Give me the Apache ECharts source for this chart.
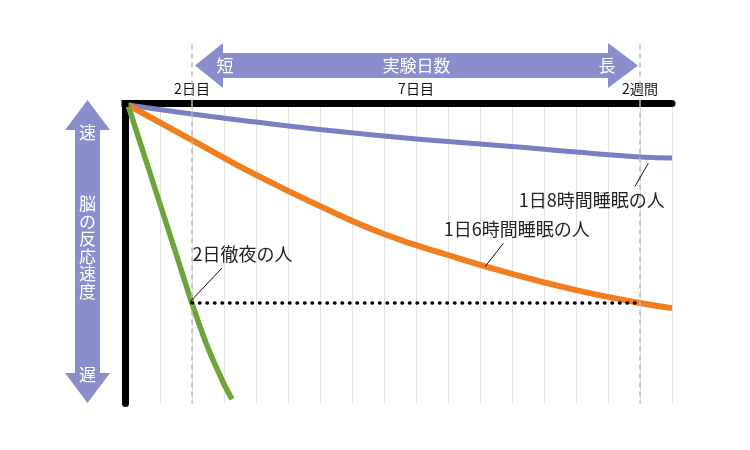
<!DOCTYPE html>
<html>
<head>
<meta charset="utf-8">
<script src="https://cdn.jsdelivr.net/npm/echarts@6/dist/echarts.min.js"></script>
<style>
    html, body { margin: 0; padding: 0; background: #fff; }
    #chart { width: 750px; height: 450px; }
</style>
</head>
<body>
<div id="chart"></div>
<script>
    // 実験日数（グリッド単位）と脳の反応速度の低下（0=速, 100=遅）
    var days = [0, 2, 4, 6, 8, 10, 12, 14, 16, 17];
    var sleep8h = [0.5, 3.5, 6.2, 8.7, 10.8, 12.7, 14.3, 16.2, 17.8, 18.2];
    var sleep6h = [0.5, 12.2, 23.8, 34.2, 43.5, 50.5, 56.8, 62.2, 66.5, 68.2];
    var allNightDays = [0, 0.5, 1, 1.5, 2, 2.5, 3, 3.25];
    var allNight = [0.5, 17, 33.5, 50, 66.6, 81.5, 93.5, 98.6];
    var tickLabels = { 2: '2日目', 9: '7日目', 16: '2週間' };
    var markDays = [2, 16];
    var equalLevel = 66.5;

    var names = ['1日8時間睡眠の人', '1日6時間睡眠の人', '2日徹夜の人'];
    // 注記の位置（データ座標）
    var labelPos = [[14.49, 32.2], [12.15, 41.8], [3.58, 50.2]];
    var leaders = [
        [[16.26, 19.9], [15.84, 27.7]],
        [[11.73, 46.6], [11.16, 54.4]],
        [[2.93, 54.9], [1.94, 66.1]]
    ];

    var FONT = '"Noto Sans CJK JP", "Noto Sans", sans-serif';
    var ARROW = '#8a8fcc';

    function zip(xs, ys) {
        return xs.map(function (x, i) { return [x, ys[i]]; });
    }

    function annot(i) {
        return {
            markLine: {
                silent: true,
                symbol: ['none', 'none'],
                label: { show: false },
                lineStyle: { color: '#111', width: 1, type: 'solid' },
                data: [[{ coord: leaders[i][0] }, { coord: leaders[i][1] }]]
            },
            markPoint: {
                silent: true,
                symbol: 'circle',
                symbolSize: 1,
                itemStyle: { color: 'rgba(0,0,0,0)' },
                label: {
                    show: true,
                    position: 'inside',
                    formatter: names[i],
                    color: '#222',
                    fontSize: 18,
                    fontFamily: FONT
                },
                data: [{ coord: labelPos[i] }]
            }
        };
    }

    var chart = echarts.init(document.getElementById('chart'));

    var blue = Object.assign({
        type: 'line', name: names[0], data: zip(days, sleep8h), smooth: true,
        showSymbol: false, lineStyle: { color: '#7a7ec2', width: 5 }, z: 4
    }, annot(0));
    var orange = Object.assign({
        type: 'line', name: names[1], data: zip(days, sleep6h), smooth: true,
        showSymbol: false, lineStyle: { color: '#ef7f1f', width: 6 }, z: 4
    }, annot(1));
    var green = Object.assign({
        type: 'line', name: names[2], data: zip(allNightDays, allNight), smooth: 0.2,
        showSymbol: false, lineStyle: { color: '#6ea43a', width: 5.5 }, z: 4
    }, annot(2));

    var option = {
        animation: false,
        grid: [
            { left: 128, right: 78, top: 103.5, bottom: 46.5 },
            { left: 128, right: 78, top: 42, height: 61.5 }
        ],
        xAxis: [
            {
                gridIndex: 0, type: 'value', position: 'top', min: 0, max: 17, interval: 1,
                axisLine: { onZero: false, lineStyle: { color: '#000', width: 7 } },
                axisTick: { show: false },
                splitLine: { show: true, lineStyle: { color: '#e2e2e2', width: 1 } },
                axisLabel: {
                    margin: 8, color: '#111', fontSize: 14, fontFamily: FONT,
                    formatter: function (v) { return tickLabels[v] || ''; }
                }
            },
            { gridIndex: 1, type: 'value', min: 0, max: 17, show: false }
        ],
        yAxis: [
            {
                gridIndex: 0, type: 'value', inverse: true, min: 0, max: 100, offset: 3,
                axisLine: { show: true, onZero: false, lineStyle: { color: '#000', width: 7 } },
                axisTick: { show: false },
                axisLabel: { show: false },
                splitLine: { show: false }
            },
            { gridIndex: 1, type: 'value', min: 0, max: 1, show: false }
        ],
        series: [
            {
                type: 'line', data: [], xAxisIndex: 0, yAxisIndex: 0, z: 2,
                markLine: {
                    silent: true, symbol: ['none', 'none'], label: { show: false },
                    lineStyle: { color: '#bbb', width: 1.5, type: [5, 4] },
                    data: markDays.map(function (d) { return { xAxis: d }; })
                }
            },
            {
                type: 'line', data: [], xAxisIndex: 1, yAxisIndex: 1, z: 1,
                markLine: {
                    silent: true, symbol: ['none', 'none'], label: { show: false },
                    lineStyle: { color: '#bbb', width: 1.5, type: [5, 4] },
                    data: markDays.map(function (d) { return { xAxis: d }; })
                }
            },
            blue,
            orange,
            green,
            {
                type: 'line', z: 5, showSymbol: false,
                data: [[markDays[0], equalLevel], [markDays[1], equalLevel]],
                lineStyle: { color: '#000', width: 3.5, type: [0.5, 7], cap: 'round' }
            }
        ],
        graphic: [
            { type: 'rect', z: 10, shape: { x: 121.5, y: 100, width: 7, height: 7 }, style: { fill: '#000' } },
            {
                type: 'polygon', z: 10,
                shape: { points: [[195, 65.5], [223, 43], [223, 53], [608, 53], [608, 43], [638, 65.5],
                                  [608, 88], [608, 78], [223, 78], [223, 88]] },
                style: { fill: ARROW }
            },
            { type: 'text', z: 11, x: 225, y: 66, style: { text: '短', fill: '#fff', font: '17px ' + FONT, align: 'center', verticalAlign: 'middle' } },
            { type: 'text', z: 11, x: 416.5, y: 66, style: { text: '実験日数', fill: '#fff', font: '17px ' + FONT, align: 'center', verticalAlign: 'middle' } },
            { type: 'text', z: 11, x: 607, y: 66, style: { text: '長', fill: '#fff', font: '17px ' + FONT, align: 'center', verticalAlign: 'middle' } },
            {
                type: 'polygon', z: 10,
                shape: { points: [[87.5, 100], [110, 130], [100, 130], [100, 373], [110, 373], [87.5, 403],
                                  [65, 373], [75, 373], [75, 130], [65, 130]] },
                style: { fill: ARROW }
            },
            { type: 'text', z: 11, x: 87.5, y: 133, style: { text: '速', fill: '#fff', font: '17px ' + FONT, align: 'center', verticalAlign: 'middle' } },
            { type: 'text', z: 11, x: 87.5, y: 247.5, style: { text: '脳\nの\n反\n応\n速\n度', fill: '#fff', font: '17px ' + FONT, lineHeight: 17.5, align: 'center', verticalAlign: 'middle' } },
            { type: 'text', z: 11, x: 87.5, y: 375, style: { text: '遅', fill: '#fff', font: '17px ' + FONT, align: 'center', verticalAlign: 'middle' } }
        ]
    };

    chart.setOption(option);
</script>
</body>
</html>
